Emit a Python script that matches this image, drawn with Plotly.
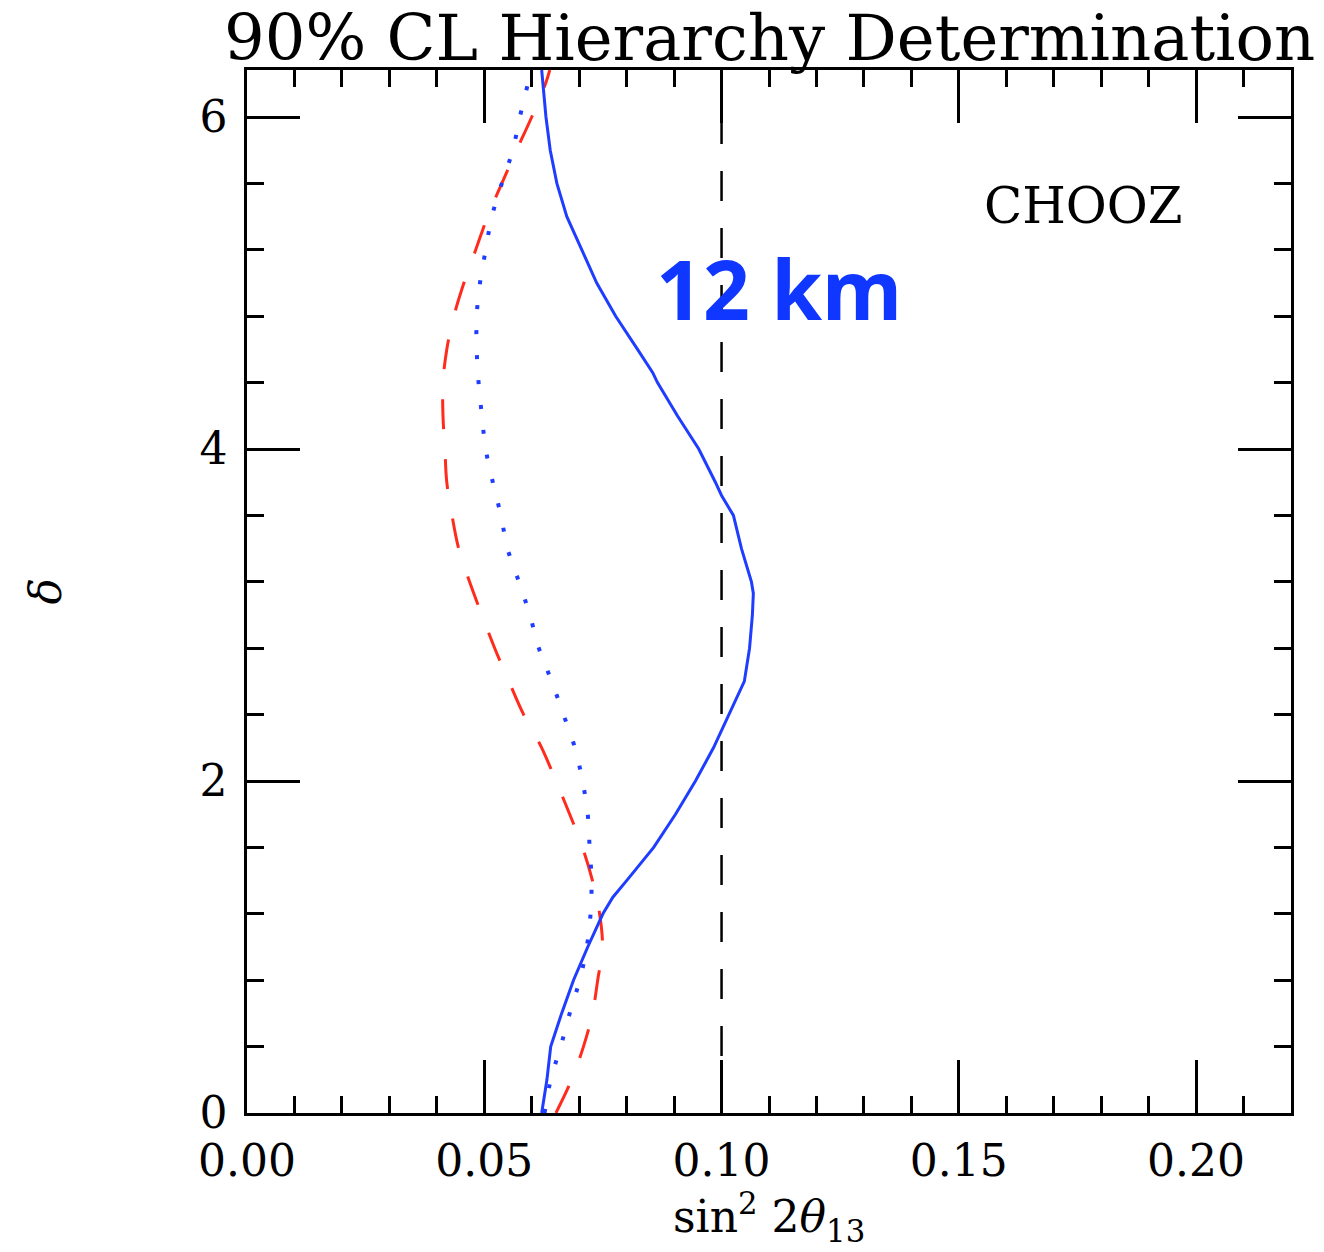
import math
import plotly.graph_objects as go

TWO_PI = 2 * math.pi

# CP phase grid shared by the dashed (red) and dotted (blue) contours
delta_grid = [0.0, 0.2, 0.4, 0.6, 0.8, 1.0, 1.2, 1.4, 1.6, 1.8, 2.0, 2.2, 2.4, 2.6,
              2.8, 3.0, 3.2, 3.4, 3.6, 3.8, 4.0, 4.2, 4.4, 4.6, 4.8, 5.0, 5.2,
              5.4, 5.6, 5.8, 6.0, 6.2, TWO_PI]

# red dashed contour
s2_red = [0.0651, 0.0684, 0.0709, 0.0728, 0.0739, 0.0749, 0.0743, 0.0728, 0.0707,
          0.0680, 0.0651, 0.0621, 0.0583, 0.0552, 0.0522, 0.0495, 0.0469, 0.0446,
          0.0432, 0.0421, 0.0417, 0.0413, 0.0413, 0.0421, 0.0436, 0.0457, 0.0482,
          0.0507, 0.0537, 0.0568, 0.0600, 0.0629, 0.0638]

# blue dotted contour
delta_dot = delta_grid[:-1]
s2_dot = [0.0627, 0.0640, 0.0661, 0.0680, 0.0701, 0.0716, 0.0724, 0.0726, 0.0722,
          0.0718, 0.0707, 0.0691, 0.0667, 0.0642, 0.0615, 0.0596, 0.0573, 0.0549,
          0.0535, 0.0518, 0.0503, 0.0495, 0.0488, 0.0484, 0.0484, 0.0491, 0.0503,
          0.0516, 0.0537, 0.0560, 0.0575, 0.0592]

# blue solid contour
delta_solid = [0.0, 0.2, 0.4, 0.6, 0.8, 1.0, 1.2, 1.3, 1.4, 1.6, 1.8, 2.0, 2.2, 2.4,
               2.6, 2.8, 3.0, 3.13, 3.2, 3.4, 3.6, 3.72, 3.8, 4.0, 4.2, 4.4, 4.46,
               4.6, 4.8, 5.0, 5.2, 5.4, 5.6, 5.8, 6.0, 6.2, TWO_PI]
s2_solid = [0.0621, 0.0632, 0.0640, 0.0663, 0.0688, 0.0718, 0.0750, 0.0771, 0.0800,
            0.0857, 0.0903, 0.0945, 0.0983, 0.1015, 0.1048, 0.1059, 0.1065, 0.1067,
            0.1063, 0.1042, 0.1025, 0.1000, 0.0987, 0.0952, 0.0907, 0.0865, 0.0855,
            0.0823, 0.0777, 0.0737, 0.0705, 0.0674, 0.0653, 0.0639, 0.0630, 0.0624,
            0.0621]

# CHOOZ bound
chooz_limit = 0.10

x_ticks = [0.00, 0.05, 0.10, 0.15, 0.20]
y_ticks = [0, 2, 4, 6]

BLUE = "#1f3dff"
RED = "#ff2b1c"
SERIF = "DejaVu Serif"

fig = go.Figure()

fig.add_trace(go.Scatter(
    x=[chooz_limit, chooz_limit], y=[0, TWO_PI], mode="lines",
    line=dict(color="black", width=2.5, dash="30px,27px"), showlegend=False))

fig.add_trace(go.Scatter(
    x=s2_red, y=delta_grid, mode="lines", line_shape="spline",
    line=dict(color=RED, width=3, dash="30px,30px"), showlegend=False))

fig.add_trace(go.Scatter(
    x=s2_dot, y=delta_dot, mode="lines", line_shape="spline",
    line=dict(color=BLUE, width=4, dash="4px,21px"), showlegend=False))

fig.add_trace(go.Scatter(
    x=s2_solid, y=delta_solid, mode="lines",
    line=dict(color=BLUE, width=3), showlegend=False))

axis_common = dict(
    showgrid=False, zeroline=False, showline=True, linecolor="black",
    linewidth=2.5, mirror="ticks", ticks="inside", tickcolor="black",
    tickwidth=2.5, ticklen=53,
    tickfont=dict(family=SERIF, size=44, color="black"),
)

fig.update_xaxes(
    range=[0, 0.22], tickmode="array", tickvals=x_ticks,
    ticktext=[f"{v:.2f}" for v in x_ticks], ticklabelstandoff=7,
    minor=dict(ticks="inside", dtick=0.01, tick0=0, ticklen=17,
               tickwidth=2.5, tickcolor="black", showgrid=False),
    **axis_common)

fig.update_yaxes(
    range=[0, TWO_PI], tickmode="array", tickvals=y_ticks,
    ticktext=[str(v) for v in y_ticks], ticklabelstandoff=8,
    minor=dict(ticks="inside", dtick=0.4, tick0=0, ticklen=17,
               tickwidth=2.5, tickcolor="black", showgrid=False),
    **axis_common)

annotations = [
    dict(text="90% CL Hierarchy Determination", xref="paper", yref="paper",
         x=0.5, y=1, xanchor="center", yanchor="middle", yshift=32,
         showarrow=False, font=dict(family=SERIF, size=64, color="black")),
    dict(text="sin<sup>2</sup> 2<i>θ</i><sub>13</sub>", xref="paper", yref="paper",
         x=0.5, y=0, xanchor="center", yanchor="middle", yshift=-104,
         showarrow=False, font=dict(family=SERIF, size=44, color="black")),
    dict(text="<i>δ</i>", xref="paper", yref="paper", x=0, y=0.5,
         xanchor="center", yanchor="middle", xshift=-202, textangle=-90,
         showarrow=False, font=dict(family=SERIF, size=44, color="black")),
    dict(text="CHOOZ", x=0.1762, y=5.462, xanchor="center", yanchor="middle",
         showarrow=False, font=dict(family=SERIF, size=50, color="black")),
    dict(text="<b>12 km</b>", x=0.1122, y=4.968, xanchor="center", yanchor="middle",
         showarrow=False, font=dict(family="Noto Sans", size=82, color="#0f37ff")),
]

fig.update_layout(
    width=1324, height=1252,
    margin=dict(l=247, r=33, t=70, b=139),
    paper_bgcolor="white", plot_bgcolor="white",
    annotations=annotations,
)

fig.write_html("out.html")
